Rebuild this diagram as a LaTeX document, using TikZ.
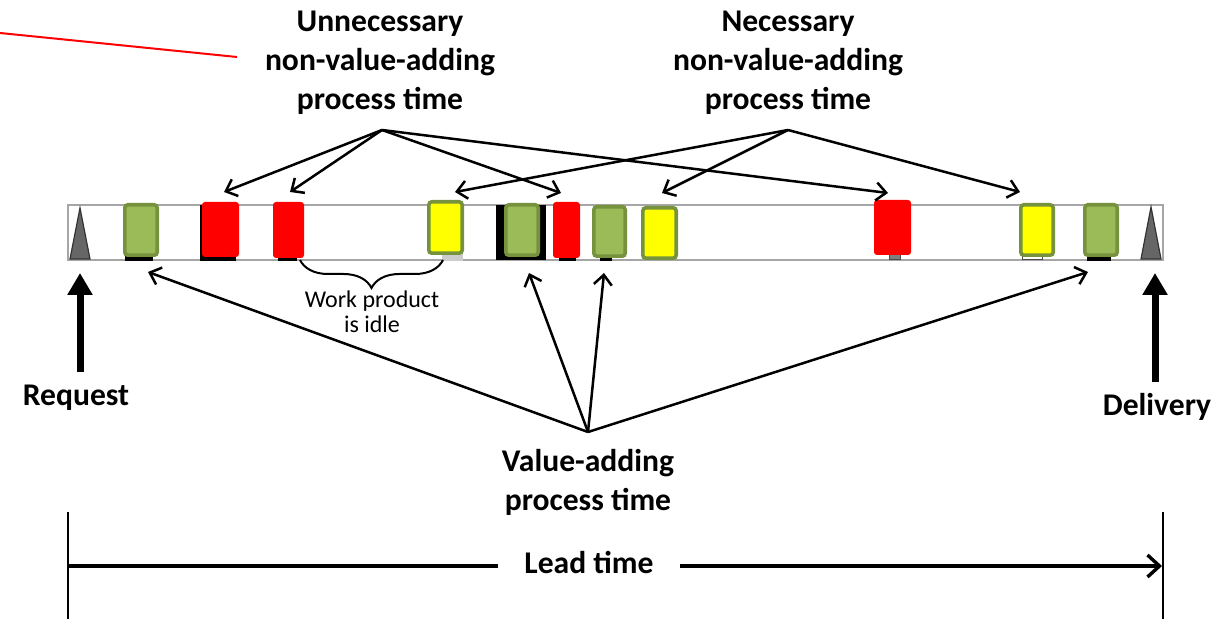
\documentclass[tikz,border=0pt]{standalone}
\usepackage{fontspec}
\setmainfont{Carlito}
\usetikzlibrary{arrows.meta,decorations.pathreplacing}
\definecolor{gfill}{HTML}{9BBB59}
\definecolor{gline}{HTML}{76923C}
\definecolor{barline}{HTML}{A6A6A6}
\definecolor{trifill}{HTML}{666666}
\definecolor{redbox}{HTML}{FF0000}
\definecolor{yelbox}{HTML}{FFFF00}
\tikzset{
  box/.style={inner sep=0pt, outer sep=0pt, rounded corners=1.5pt},
  gbox/.style={box, fill=gfill, draw=gline, line width=1.8pt},
  ybox/.style={box, fill=yelbox, draw=gline, line width=1.8pt},
  rbox/.style={box, fill=redbox},
  lbl/.style={font=\bfseries\fontsize{15.8}{19.5}\selectfont, align=center, inner sep=0pt},
  ptr/.style={line width=1.25pt, -{Straight Barb[length=5pt,width=9pt,line width=1.25pt]}},
  bigptr/.style={line width=3.5pt, -{Triangle[length=11pt,width=12pt]}},
  leadptr/.style={line width=1.7pt, -{Straight Barb[length=6pt,width=11pt,line width=1.7pt]}},
}
\begin{document}
\begin{tikzpicture}[x=0.5pt,y=-0.5pt]
\useasboundingbox (0,0) rectangle (1218,619);
% red line
\coordinate (rl1) at (0,33);
\coordinate (rl2) at (237,57);
\draw[redbox, line width=1pt] (rl1) -- (rl2);
% bar
\draw[barline, line width=1pt] (68,205) rectangle (1163,260);
% triangles
\draw[fill=trifill, draw=black!80, line width=0.6pt] (70,259) -- (80,208) -- (90,259) -- cycle;
\draw[fill=trifill, draw=black!80, line width=0.6pt] (1141,259) -- (1151,207) -- (1161,259) -- cycle;
% black pieces behind boxes
\fill[black] (125,255) rectangle (153,261);
\fill[black] (200,205) rectangle (236,261);
\fill[black] (278,255) rectangle (297,261);
\fill[black] (496,205) rectangle (546,260);
\fill[black] (559,255) rectangle (576,261);
\fill[black] (600,256) rectangle (612,261);
\draw[fill=gray, draw=black!70, line width=0.5pt] (889,254) rectangle (900,260);
\fill[black] (1087,255) rectangle (1111,261);
\fill[black!20] (442,254) rectangle (463,261);
\draw[fill=white, draw=black!70, line width=0.5pt] (1022,254) rectangle (1042,260);
% boxes
\node[gbox, minimum width=16.2pt, minimum height=25.2pt] (g1) at (141,230) {};
\node[rbox, minimum width=18.5pt, minimum height=27.5pt] (r1) at (220.5,229.5) {};
\node[rbox, minimum width=15.5pt, minimum height=28pt] (r2) at (288.5,230) {};
\node[ybox, minimum width=16.7pt, minimum height=25.7pt] (y1) at (445.5,227.5) {};
\node[gbox, minimum width=16.2pt, minimum height=25.2pt] (g2) at (522,230) {};
\node[rbox, minimum width=13.5pt, minimum height=28pt] (r3) at (566.5,230) {};
\node[gbox, minimum width=15.7pt, minimum height=24.7pt] (g3) at (609.5,231.5) {};
\node[ybox, minimum width=16.7pt, minimum height=25.2pt] (y2) at (659.5,233) {};
\node[rbox, minimum width=18.5pt, minimum height=27.5pt] (r4) at (892.5,227.5) {};
\node[ybox, minimum width=16.2pt, minimum height=25.2pt] (y3) at (1037,230) {};
\node[gbox, minimum width=16.2pt, minimum height=25.2pt] (g4) at (1101,230) {};
% brace
\coordinate (br1) at (300,260);
\coordinate (br2) at (443,260);
\draw[line width=1pt, decorate, decoration={brace, amplitude=14pt, mirror}] (br1) -- (br2);
\node[font=\fontsize{12}{12.5}\selectfont, align=center, inner sep=0pt, text=black] (idle) at (372,312) {Work product\\is idle};
% labels
\node[lbl] (unnec) at (380,63) {Unnecessary\\non-value-adding\\process time};
\node[lbl] (nec) at (788,63) {Necessary\\non-value-adding\\process time};
\node[lbl] (val) at (588,482) {Value-adding\\process time};
\node[lbl] (req) at (76,398) {Request};
\node[lbl] (del) at (1157,407) {Delivery};
% unnecessary arrows
\coordinate (ua) at (382,130);
\coordinate (ut1) at (224,192);
\coordinate (ut2) at (290,192);
\coordinate (ut3) at (561,193);
\coordinate (ut4) at (888,193);
\draw[ptr] (ua) -- (ut1);
\draw[ptr] (ua) -- (ut2);
\draw[ptr] (ua) -- (ut3);
\draw[ptr] (ua) -- (ut4);
% necessary arrows
\coordinate (na) at (788,130);
\coordinate (nt1) at (455,192);
\coordinate (nt2) at (662,193);
\coordinate (nt3) at (1020,192);
\draw[ptr] (na) -- (nt1);
\draw[ptr] (na) -- (nt2);
\draw[ptr] (na) -- (nt3);
% value-adding arrows
\coordinate (va) at (588,432);
\coordinate (vt1) at (148,272);
\coordinate (vt2) at (529,273);
\coordinate (vt3) at (604,273);
\coordinate (vt4) at (1088,272);
\draw[ptr] (va) -- (vt1);
\draw[ptr] (va) -- (vt2);
\draw[ptr] (va) -- (vt3);
\draw[ptr] (va) -- (vt4);
% request / delivery arrows
\coordinate (rqb) at (80,372);
\coordinate (rqt) at (80,273);
\draw[bigptr] (rqb) -- (rqt);
\coordinate (dlb) at (1155,382);
\coordinate (dlt) at (1155,273);
\draw[bigptr] (dlb) -- (dlt);
% lead time
\coordinate (lt1) at (68,512);
\coordinate (lb1) at (68,619);
\coordinate (lt2) at (1163,512);
\coordinate (lb2) at (1163,619);
\draw[line width=1pt] (lt1) -- (lb1);
\draw[line width=1pt] (lt2) -- (lb2);
\node[lbl, inner xsep=13pt] (lead) at (589,563) {Lead time};
\coordinate (ls) at (68,566);
\coordinate (le) at (1162,566);
\draw[line width=1.7pt] (ls) -- (ls -| lead.west);
\draw[leadptr] (lead.east |- le) -- (le);
\end{tikzpicture}
\end{document}
